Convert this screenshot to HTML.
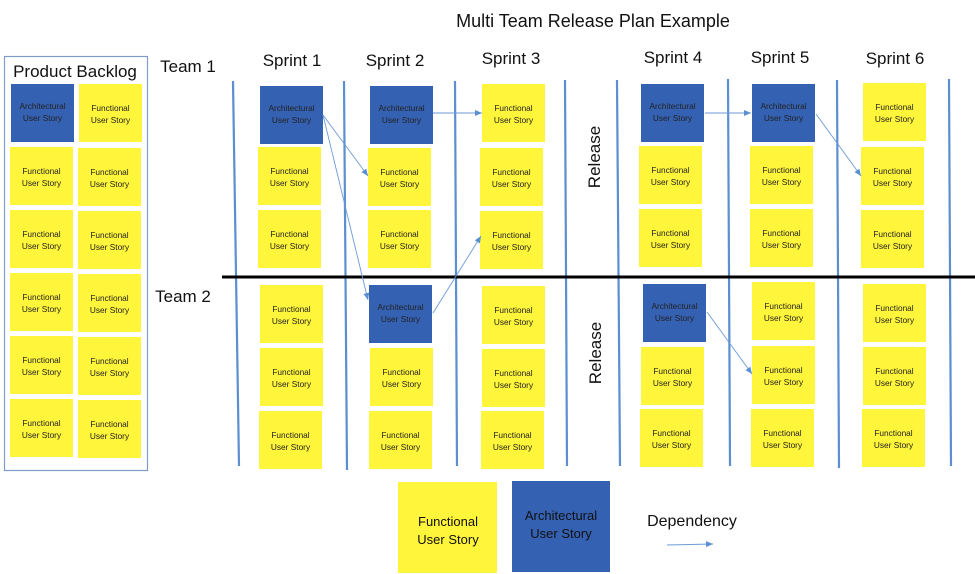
<!DOCTYPE html>
<html><head><meta charset="utf-8"><style>
html,body{margin:0;padding:0;background:#fff;}
svg{display:block;font-family:"Liberation Sans",sans-serif;}
.y{fill:#fff53a}
.b{fill:#3561b2}
.t{font-size:8.3px;fill:#222;text-anchor:middle}
.h{font-size:17px;fill:#111;text-anchor:middle}
.v{stroke:#5b8fd0;stroke-width:2.2}
.a{stroke:#6c9ad6;stroke-width:0.9;fill:none}
</style></head><body>
<svg width="975" height="574" viewBox="0 0 975 574" xmlns="http://www.w3.org/2000/svg">
<defs>
<marker id="m" markerWidth="8" markerHeight="8" refX="7" refY="4" orient="auto" markerUnits="userSpaceOnUse"><path d="M0,1 L7,4 L0,7 z" fill="#5b8fd0"/></marker>
<g id="F"><rect class="y" width="63" height="58"/><text class="t" x="31.5" y="27">Functional</text><text class="t" x="31.5" y="39">User Story</text></g>
<g id="A"><rect class="b" width="63" height="58"/><text class="t" x="31.5" y="25">Architectural</text><text class="t" x="31.5" y="37">User Story</text></g>
</defs>
<text x="593" y="27" class="h" style="font-size:18px">Multi Team Release Plan Example</text>
<rect x="4.5" y="56.5" width="143" height="414" fill="none" stroke="#7d9cc6" stroke-width="1.2"/>
<text x="75" y="77" class="h" style="font-size:17px">Product Backlog</text>
<use href="#A" x="11" y="84"/><use href="#F" x="79" y="84"/>
<use href="#F" x="10" y="147"/><use href="#F" x="78" y="148"/>
<use href="#F" x="10" y="210"/><use href="#F" x="78" y="211"/>
<use href="#F" x="10" y="273"/><use href="#F" x="78" y="274"/>
<use href="#F" x="10" y="336"/><use href="#F" x="78" y="337"/>
<use href="#F" x="10" y="399"/><use href="#F" x="78" y="400"/>
<text x="188" y="72" class="h">Team 1</text>
<text x="183" y="302" class="h">Team 2</text>
<text x="292" y="66" class="h">Sprint 1</text>
<text x="395" y="66" class="h">Sprint 2</text>
<text x="511" y="64" class="h">Sprint 3</text>
<text x="673" y="63" class="h">Sprint 4</text>
<text x="780" y="63" class="h">Sprint 5</text>
<text x="895" y="64" class="h">Sprint 6</text>
<text class="h" transform="translate(600,157) rotate(-90)">Release</text>
<text class="h" transform="translate(601,353) rotate(-90)">Release</text>
<line class="v" x1="233" y1="81" x2="239" y2="466"/>
<line class="v" x1="344" y1="81" x2="347" y2="470"/>
<line class="v" x1="455" y1="81" x2="457" y2="466"/>
<line class="v" x1="565" y1="80" x2="567" y2="466"/>
<line class="v" x1="617" y1="80" x2="620" y2="466"/>
<line class="v" x1="728" y1="79" x2="730" y2="466"/>
<line class="v" x1="837" y1="80" x2="839" y2="468"/>
<line class="v" x1="949" y1="79" x2="951" y2="466"/>
<line x1="222" y1="277" x2="975" y2="277" stroke="#000" stroke-width="3"/>
<!-- team 1 -->
<use href="#A" x="260" y="86"/><use href="#F" x="258" y="147"/><use href="#F" x="258" y="210"/>
<use href="#A" x="370" y="86"/><use href="#F" x="368" y="148"/><use href="#F" x="368" y="210"/>
<use href="#F" x="482" y="84"/><use href="#F" x="480" y="148"/><use href="#F" x="480" y="211"/>
<use href="#A" x="641" y="84"/><use href="#F" x="639" y="146"/><use href="#F" x="639" y="209"/>
<use href="#A" x="752" y="84"/><use href="#F" x="750" y="146"/><use href="#F" x="750" y="209"/>
<use href="#F" x="863" y="83"/><use href="#F" x="861" y="147"/><use href="#F" x="861" y="210"/>
<!-- team 2 -->
<use href="#F" x="260" y="285"/><use href="#F" x="260" y="348"/><use href="#F" x="259" y="411"/>
<use href="#A" x="369" y="285"/><use href="#F" x="370" y="348"/><use href="#F" x="369" y="411"/>
<use href="#F" x="482" y="286"/><use href="#F" x="482" y="349"/><use href="#F" x="481" y="411"/>
<use href="#A" x="643" y="284"/><use href="#F" x="641" y="347"/><use href="#F" x="640" y="409"/>
<use href="#F" x="752" y="282"/><use href="#F" x="752" y="346"/><use href="#F" x="751" y="409"/>
<use href="#F" x="863" y="284"/><use href="#F" x="863" y="347"/><use href="#F" x="862" y="409"/>
<!-- arrows -->
<path class="a" d="M323,115 L368,176" marker-end="url(#m)"/>
<path class="a" d="M323,115 L368,300" marker-end="url(#m)"/>
<path class="a" d="M433,113 L482,113" marker-end="url(#m)"/>
<path class="a" d="M433,313 L481,236" marker-end="url(#m)"/>
<path class="a" d="M705,113 L751,113" marker-end="url(#m)"/>
<path class="a" d="M816,114 L861,176" marker-end="url(#m)"/>
<path class="a" d="M707,312 L752,374" marker-end="url(#m)"/>
<!-- legend -->
<rect class="y" x="398" y="482" width="99" height="91"/>
<text x="448" y="526" style="font-size:13px;text-anchor:middle;fill:#111">Functional</text>
<text x="448" y="544" style="font-size:13px;text-anchor:middle;fill:#111">User Story</text>
<rect class="b" x="512" y="481" width="98" height="91"/>
<text x="561" y="520" style="font-size:13px;text-anchor:middle;fill:#111">Architectural</text>
<text x="561" y="538" style="font-size:13px;text-anchor:middle;fill:#111">User Story</text>
<text x="692" y="526" style="font-size:16px;text-anchor:middle;fill:#111">Dependency</text>
<path class="a" d="M667,545 L713,544" marker-end="url(#m)"/>
</svg>
</body></html>
